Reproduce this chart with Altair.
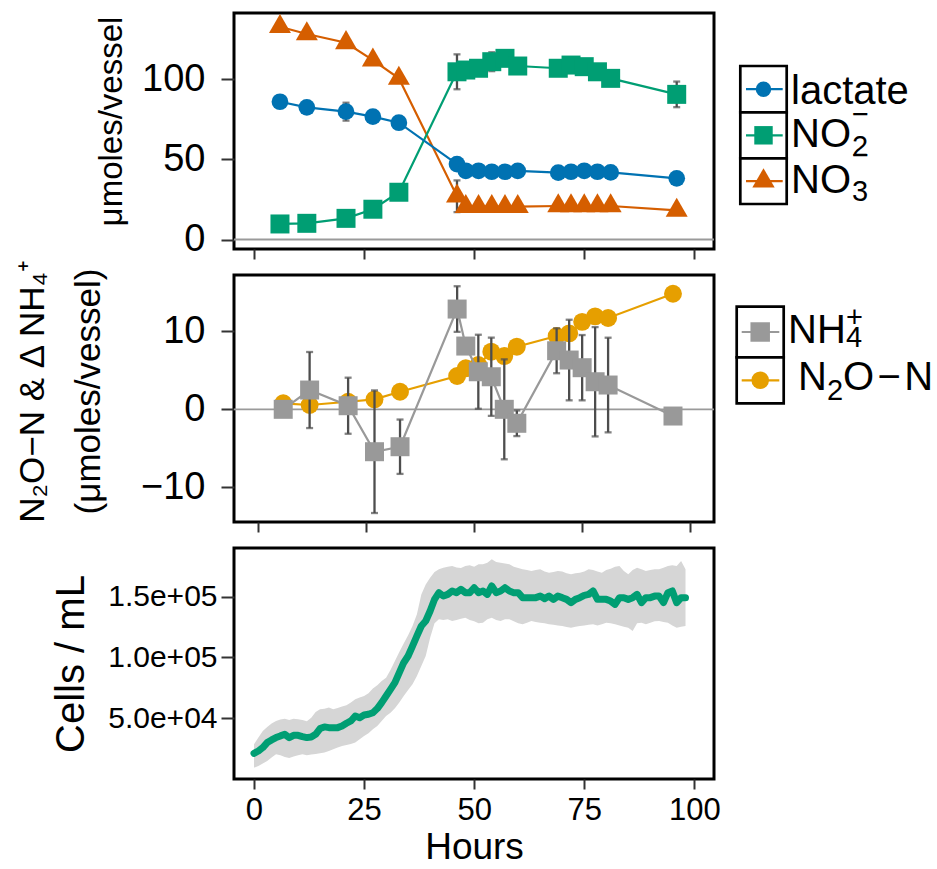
import altair as alt
import pandas as pd

FONT = "Liberation Sans"

# ---------------- chemistry sampling (hours) ----------------
hours = [5.9, 12.0, 20.9, 27.0, 32.9, 46.1, 48.1, 51.0, 54.0, 57.0,
         59.9, 69.1, 72.0, 75.0, 78.0, 81.0, 96.0]

# umoles / vessel (mean and sd)
lactate = [86.0, 82.5, 79.8, 76.7, 72.9, 47.1, 42.9, 42.9, 42.3, 42.3,
           42.8, 41.7, 42.3, 42.9, 42.3, 41.9, 38.2]
lactate_sd = [1.5, 1.5, 5.6, 2.0, 1.5, 2.0, 1.5, 1.0, 1.0, 1.0,
              1.0, 1.0, 1.0, 1.0, 1.0, 1.0, 1.5]
nitrite = [9.7, 10.1, 13.2, 18.9, 29.5, 104.7, 105.8, 106.9, 111.0, 113.1,
           108.3, 106.9, 108.9, 107.9, 104.7, 100.6, 90.6]
nitrite_sd = [1.0, 1.0, 1.5, 1.5, 2.0, 10.9, 3.0, 2.5, 5.9, 3.0,
              2.0, 2.0, 2.5, 2.0, 2.0, 2.0, 8.0]
nitrate = [132.8, 128.3, 122.8, 112.0, 100.6, 27.0, 20.5, 20.5, 20.5, 20.5,
           20.5, 20.9, 20.9, 20.9, 20.9, 20.9, 18.2]
nitrate_sd = [2.0, 2.0, 2.0, 2.0, 2.0, 9.9, 2.0, 1.5, 1.5, 1.5,
              1.5, 1.5, 1.5, 1.5, 1.5, 1.5, 1.5]

# N2O-N and change in NH4+ (umoles / vessel)
n2o = [0.77, 0.55, 0.97, 1.28, 2.25, 4.26, 5.25, 5.67, 7.38, 6.82,
       8.02, 9.39, 9.73, 11.2, 11.9, 11.7, 14.8]
n2o_sd = [0.3, 0.3, 0.3, 0.3, 0.3, 0.4, 0.4, 0.4, 0.5, 0.5,
          0.5, 0.5, 0.5, 0.5, 0.5, 0.5, 0.5]
nh4 = [0.0, 2.47, 0.46, -5.43, -4.79, 12.84, 8.10, 4.81, 4.17, 0.0,
       -1.79, 7.50, 6.31, 5.33, 3.53, 3.11, -0.86]
nh4_sd = [0.5, 4.87, 3.59, 7.85, 3.48, 2.92, 1.0, 4.74, 5.01, 6.40,
          1.64, 2.88, 5.16, 4.18, 7.0, 6.06, 0.5]

# ---------------- cell counts (hourly) ----------------
cell_hours = list(range(0, 99))
cells_mean = [
    21200, 23100, 25900, 30000, 32200, 34100, 35500, 36800, 34100, 36000,
    36000, 34900, 34100, 34600, 36800, 41500, 42900, 42300, 42300, 42300,
    43700, 45900, 47800, 51900, 50500, 52700, 53300, 54600, 58000, 62900,
    68300, 73800, 79300, 87500, 95700, 101200, 109400, 117700, 125900, 130000,
    138200, 147800, 153300, 150500, 151900, 154700, 153300, 156000, 153300, 153300,
    157400, 153300, 154700, 151900, 158800, 153300, 154700, 157400, 154700, 153300,
    153300, 149200, 149200, 149200, 149200, 150500, 148400, 150500, 147800, 150500,
    149200, 147800, 145100, 147800, 149200, 151100, 151900, 154700, 147800, 147800,
    147800, 146400, 143700, 149200, 149200, 147800, 149200, 151900, 145100, 149200,
    149200, 150500, 150500, 145100, 153300, 154700, 145100, 149200, 149200]
cells_hi = [
    28600, 34100, 39600, 42900, 45600, 47800, 48900, 49700, 48600, 49700,
    49200, 48600, 47500, 50500, 55200, 57400, 57900, 58800, 57400, 58500,
    59600, 60700, 62900, 65600, 67000, 68300, 70500, 74400, 77100, 80700,
    83400, 89700, 97100, 104500, 111600, 118200, 125900, 135500, 151900, 160100,
    165600, 170300, 172500, 173800, 174700, 175200, 174100, 173600, 175200, 175800,
    174700, 176600, 176600, 177900, 180700, 178500, 177900, 177400, 176600, 174700,
    173600, 172500, 171900, 171100, 171900, 172500, 170800, 169700, 170300, 171100,
    170800, 169200, 168400, 169200, 169700, 170800, 172500, 171900, 170800, 169700,
    171900, 173000, 174700, 175200, 171100, 168400, 171900, 173800, 172500, 171100,
    171900, 172500, 172500, 173800, 175200, 175800, 175200, 179300, 172500]
cells_lo = [
    9400, 10800, 12700, 14900, 17700, 20400, 19600, 18200, 17400, 18500,
    19600, 20400, 19600, 20100, 20700, 21200, 21800, 23100, 24500, 25900,
    27200, 28100, 28900, 30000, 32700, 35500, 37700, 40900, 43700, 47800,
    51900, 54600, 58200, 62900, 68300, 73300, 77900, 84800, 93000, 101200,
    116300, 128100, 131400, 130800, 131400, 130000, 130800, 131900, 132700, 130800,
    129700, 128100, 128600, 131400, 132700, 130800, 130000, 131400, 131400, 129700,
    128100, 127300, 128600, 130000, 129200, 128600, 128100, 127300, 127000, 126400,
    125900, 125100, 124500, 125300, 125900, 126400, 127000, 127300, 126400, 127300,
    128600, 128100, 127300, 126400, 125300, 124500, 121800, 128100, 128600, 127300,
    128600, 129700, 130000, 129200, 128600, 126400, 124500, 125300, 125900]

# ---------------- styling ----------------
BLUE, GREEN, VERM, ORANGE, GREY = "#0072B2", "#009E73", "#D55E00", "#E69F00", "#999999"
ERR = "#4d4d4d"
TRI = "M0,-1.155L1,0.577L-1,0.577Z"   # triangle centred on its centroid

W = 480
H_TOP, H_MID, H_BOT = 236, 247, 231
x_ticks = [0, 25, 50, 75, 100]

x_scale_top = alt.Scale(domain=[-4.54, 104.47], nice=False, zero=False)
x_scale_mid = alt.Scale(domain=[-5.48, 105.48], nice=False, zero=False)
y_scale_top = alt.Scale(domain=[-5.93, 141.4], nice=False, zero=False)
y_scale_mid = alt.Scale(domain=[-14.43, 17.2], nice=False, zero=False)
y_scale_bot = alt.Scale(domain=[50, 190050], nice=False, zero=False)

x_axis_blank = alt.Axis(values=x_ticks, labels=False, title=None, tickSize=10)
x_axis_bottom = alt.Axis(values=x_ticks, title="Hours", tickSize=10, labelFontSize=31,
                         labelPadding=6, titleFontSize=37, titlePadding=4, labelFlush=False)

y_axis_top = alt.Axis(values=[0, 50, 100], title="μmoles/vessel", tickSize=13,
                      labelFontSize=38, labelPadding=16, titleFontSize=33,
                      titlePadding=13, titleY=108)
y_axis_mid = alt.Axis(values=[-10, 0, 10],
                      title=["N₂O−N & Δ NH₄⁺", "(μmoles/vessel)"], tickSize=13,
                      labelFontSize=38, labelPadding=16, titleFontSize=35,
                      titleLineHeight=56, titlePadding=34, titleY=116)
y_axis_bot = alt.Axis(values=[50000, 100000, 150000], title="Cells / mL", tickSize=13,
                      labelFontSize=30, labelPadding=4, titleFontSize=40, titlePadding=16,
                      labelExpr="replace(format(datum.value, '.1e'), 'e+', 'e+0')")


def series_layers(values, sds, color, shape, size, xs, xa, ys, ya):
    df = pd.DataFrame({"hours": hours, "value": values, "sd": sds})
    df["lo"] = df["value"] - df["sd"]
    df["hi"] = df["value"] + df["sd"]
    base = alt.Chart(df).encode(x=alt.X("hours:Q", scale=xs, axis=xa))
    line = base.mark_line(color=color, strokeWidth=2.2).encode(
        y=alt.Y("value:Q", scale=ys, axis=ya))
    bar = base.mark_rule(color=ERR, strokeWidth=2.3).encode(
        y=alt.Y("lo:Q", scale=ys, axis=ya), y2="hi:Q")
    cap_lo = base.mark_tick(color=ERR, orient="horizontal", size=7, thickness=2.3).encode(
        y=alt.Y("lo:Q", scale=ys, axis=ya))
    cap_hi = base.mark_tick(color=ERR, orient="horizontal", size=7, thickness=2.3).encode(
        y=alt.Y("hi:Q", scale=ys, axis=ya))
    pts = base.mark_point(filled=True, shape=shape, size=size, color=color, opacity=1).encode(
        y=alt.Y("value:Q", scale=ys, axis=ya))
    return [line, bar, cap_lo, cap_hi, pts]


ONE = pd.DataFrame({"k": [0]})


def legend_layers(rows, box, seg, sym_x):
    out = []
    for r in rows:
        y0, y1 = r["band"]
        yc = (y0 + y1) / 2
        out.append(alt.Chart(ONE).mark_rect(fill="white", stroke="black", strokeWidth=2.7).encode(
            x=alt.value(box[0]), x2=alt.value(box[1]), y=alt.value(y0), y2=alt.value(y1)))
        out.append(alt.Chart(ONE).mark_rule(color=r["color"], strokeWidth=2.2).encode(
            x=alt.value(seg[0]), x2=alt.value(seg[1]), y=alt.value(yc)))
        out.append(alt.Chart(ONE).mark_point(filled=True, shape=r["shape"], size=r["size"],
                                             color=r["color"], opacity=1).encode(
            x=alt.value(sym_x), y=alt.value(yc)))
        for txt, tx, ty, fs in r["text"]:
            out.append(alt.Chart(ONE).mark_text(text=txt, align="left", baseline="alphabetic",
                                                font=FONT, fontSize=fs, color="black").encode(
                x=alt.value(tx), y=alt.value(ty)))
    return out


# ---------------- top panel ----------------
zero_top = alt.Chart(ONE).mark_rule(color="#9a9a9a", strokeWidth=1.8).encode(
    y=alt.Y(datum=0, scale=y_scale_top, axis=y_axis_top))
top_layers = [zero_top]
top_layers += series_layers(nitrate, nitrate_sd, VERM, TRI, 484, x_scale_top, x_axis_blank, y_scale_top, y_axis_top)
top_layers += series_layers(nitrite, nitrite_sd, GREEN, "square", 361, x_scale_top, x_axis_blank, y_scale_top, y_axis_top)
top_layers += series_layers(lactate, lactate_sd, BLUE, "circle", 280, x_scale_top, x_axis_blank, y_scale_top, y_axis_top)
top_layers += legend_layers([
    {"band": (53, 99.3), "color": BLUE, "shape": "circle", "size": 240,
     "text": [("lactate", 557, 91.3, 40)]},
    {"band": (99.3, 145.3), "color": GREEN, "shape": "square", "size": 340,
     "text": [("NO", 557, 133.7, 40), ("2", 618, 143, 29), ("−", 618, 111, 29)]},
    {"band": (145.3, 191), "color": VERM, "shape": TRI, "size": 500,
     "text": [("NO", 557, 180, 40), ("3", 618, 188, 29), ("−", 618, 152, 29)]},
], box=(506.3, 552.7), seg=(512, 548.7), sym_x=529.5)
top = alt.layer(*top_layers).properties(width=W, height=H_TOP)

# ---------------- middle panel ----------------
zero_mid = alt.Chart(ONE).mark_rule(color="#9a9a9a", strokeWidth=1.8).encode(
    y=alt.Y(datum=0, scale=y_scale_mid, axis=y_axis_mid))
mid_layers = [zero_mid]
mid_layers += series_layers(n2o, n2o_sd, ORANGE, "circle", 320, x_scale_mid, x_axis_blank, y_scale_mid, y_axis_mid)
mid_layers += series_layers(nh4, nh4_sd, GREY, "square", 361, x_scale_mid, x_axis_blank, y_scale_mid, y_axis_mid)
mid_layers += legend_layers([
    {"band": (31.7, 82.3), "color": GREY, "shape": "square", "size": 380,
     "text": [("NH", 554, 68, 40), ("4", 612, 72, 29), ("+", 612, 52, 29)]},
    {"band": (82.3, 128.3), "color": ORANGE, "shape": "circle", "size": 310,
     "text": [("N", 564, 115, 40), ("2", 593, 125, 29), ("O\u200a−\u200aN", 609, 115, 40)]},
], box=(502.7, 549.7), seg=(507.7, 545.3), sym_x=526.2)
mid = alt.layer(*mid_layers).properties(width=W, height=H_MID)

# ---------------- bottom panel: cell counts ----------------
cells = pd.DataFrame({"hours": cell_hours, "mean": cells_mean, "lo": cells_lo, "hi": cells_hi})
cbase = alt.Chart(cells).encode(x=alt.X("hours:Q", scale=x_scale_top, axis=x_axis_bottom))
ribbon = cbase.mark_area(color="#d6d6d6", opacity=1).encode(
    y=alt.Y("lo:Q", scale=y_scale_bot, axis=y_axis_bot), y2="hi:Q")
cline = cbase.mark_line(color=GREEN, strokeWidth=7, strokeCap="round", strokeJoin="round").encode(
    y=alt.Y("mean:Q", scale=y_scale_bot, axis=y_axis_bot))
bot = alt.layer(ribbon, cline).properties(width=W, height=H_BOT)

chart = alt.vconcat(top, mid, bot, spacing=26, bounds="flush").properties(
    padding={"left": 14, "top": 11, "right": 0, "bottom": 0},
    background="white",
).configure_view(
    stroke="black", strokeWidth=3, fill="white"
).configure_axis(
    labelFont=FONT, titleFont=FONT, labelColor="black", titleColor="black",
    titleFontWeight="normal", tickColor="#333333", tickWidth=2, domain=False, grid=False
)

chart.save("out.html", embed_options={"renderer": "svg", "actions": False})
